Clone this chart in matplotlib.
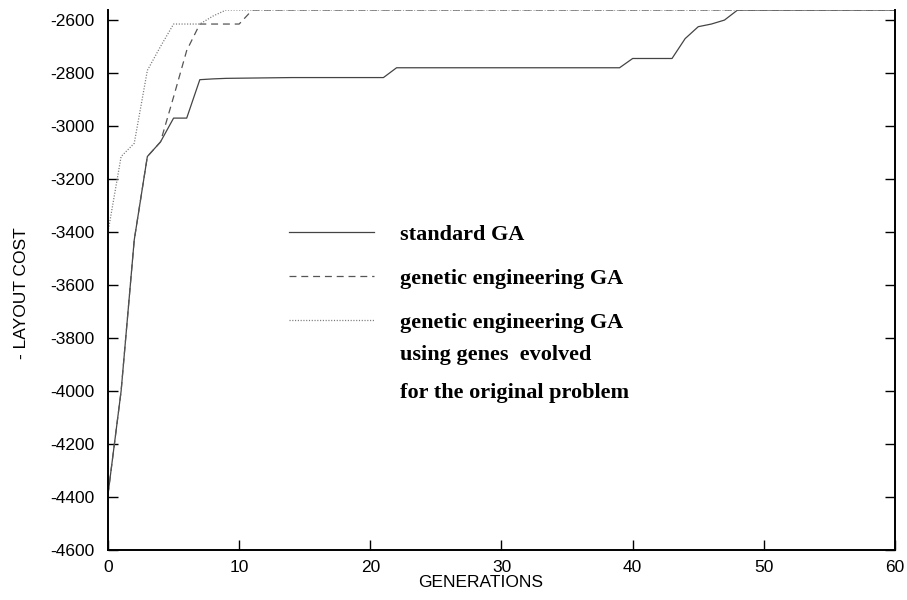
import matplotlib

matplotlib.use("Agg")

import matplotlib.pyplot as plt

# breakpoints of each curve (generation, -layout cost)
std_gen = [0, 1, 2, 3, 4, 5, 6, 7, 8, 9, 14, 21, 22, 39, 40, 43, 44, 45, 46, 47, 48, 60]
std_cost = [-4390, -4000, -3430, -3115, -3060, -2970, -2970, -2825, -2822, -2820, -2817, -2817,
            -2780, -2780, -2745, -2745, -2670, -2625, -2615, -2600, -2562, -2562]

ge_gen = [0, 1, 2, 3, 4, 5, 6, 7, 10, 11, 60]
ge_cost = [-4390, -4000, -3430, -3115, -3060, -2890, -2715, -2615, -2615, -2562, -2562]

geo_gen = [0, 1, 2, 3, 4, 5, 7, 8, 9, 60]
geo_cost = [-3400, -3115, -3065, -2790, -2700, -2615, -2615, -2585, -2562, -2562]

labels = ["standard GA", "genetic engineering GA", "genetic engineering GA"]
extra_lines = ["using genes  evolved", "for the original problem"]

x_ticks = [0, 10, 20, 30, 40, 50, 60]
y_ticks = [-4600, -4400, -4200, -4000, -3800, -3600, -3400, -3200, -3000, -2800, -2600]

plt.rcParams["font.family"] = ["Liberation Sans", "DejaVu Sans"]
plt.rcParams["lines.scale_dashes"] = False
plt.rcParams["axes.unicode_minus"] = False

fig = plt.figure(figsize=(9.07, 6.0), dpi=100)
ax = fig.add_axes([108 / 907, 50 / 600, 787 / 907, 540 / 600])

ax.plot(std_gen, std_cost, color="#444444", lw=0.9, ls="-", label=labels[0])
ax.plot(ge_gen, ge_cost, color="#555555", lw=0.9, ls=(0, (5, 3.5)), label=labels[1])
ax.plot(geo_gen, geo_cost, color="#777777", lw=0.9, ls=(0, (0.8, 1.2)), label=labels[2])

ax.set_xlim(0, 60)
ax.set_ylim(-4600, -2562)
ax.set_xticks(x_ticks)
ax.set_yticks(y_ticks)
ax.spines["top"].set_visible(False)
for side in ("left", "right", "bottom"):
    ax.spines[side].set_linewidth(1.4)
    ax.spines[side].set_color("black")
ax.tick_params(axis="both", direction="in", length=7, width=1.0, labelsize=12.5, colors="black")
ax.tick_params(axis="y", right=True, pad=10)
ax.tick_params(axis="x", pad=7)

ax.set_xlabel("GENERATIONS", fontsize=12.5)
ax.xaxis.set_label_coords(0.473, -0.047)
ax.set_ylabel("- LAYOUT COST", fontsize=12.5)
ax.yaxis.set_label_coords(-0.10, 0.476)

legend_font = {"family": ["Liberation Serif"], "weight": "bold", "size": 16}
leg = ax.legend(
    loc="upper left",
    bbox_to_anchor=(0.205, 0.64),
    frameon=False,
    handlelength=3.8,
    handletextpad=1.2,
    labelspacing=1.05,
    prop=legend_font,
)

# remaining lines of the third legend label
for line, y in zip(extra_lines, [0.361, 0.291]):
    ax.text(0.371, y, line, transform=ax.transAxes, va="center", ha="left",
            fontfamily="Liberation Serif", fontweight="bold", fontsize=16)

fig.savefig("out.png", dpi=100)
